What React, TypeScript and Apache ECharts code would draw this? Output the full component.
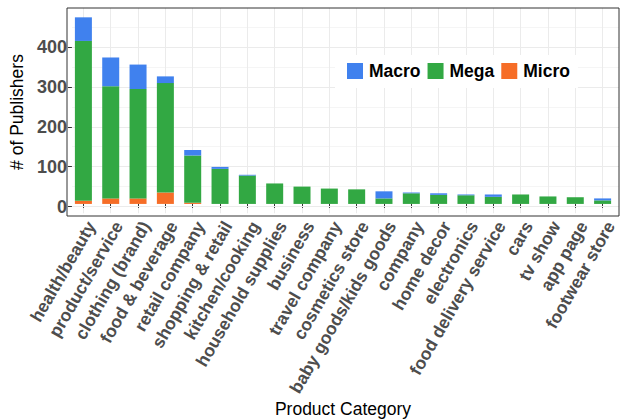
import React, { useEffect, useRef } from 'react';
import * as echarts from 'echarts';

const categories = [
  'health/beauty', 'product/service', 'clothing (brand)', 'food & beverage', 'retail company',
  'shopping & retail', 'kitchen/cooking', 'household supplies', 'business', 'travel company',
  'cosmetics store', 'baby goods/kids goods', 'company', 'home decor', 'electronics',
  'food delivery service', 'cars', 'tv show', 'app page', 'footwear store',
];
const microValues = [8, 14, 14, 29, 3, 0, 0, 0, 0, 0, 0, 0, 0, 0, 0, 0, 0, 0, 0, 0];
const megaValues = [406, 285, 278, 278, 120, 89, 72, 52, 44, 39, 37, 14, 27, 23, 22, 18, 24, 19, 17, 9];
const macroValues = [60, 73, 62, 17, 14, 5, 2, 0, 0, 0, 0, 18, 2, 4, 2, 6, 0, 0, 0, 5];
const yTicks = [0, 100, 200, 300, 400];
const yMinorTicks = [50, 150, 250, 350, 450];
const legendOrder = ['Macro', 'Mega', 'Micro'];

const COLORS = { Macro: '#4081EE', Mega: '#32A843', Micro: '#F66D27' };
const FONT = '"Liberation Sans", Arial, Helvetica, sans-serif';

export default function App() {
  const ref = useRef<HTMLDivElement>(null);
  useEffect(() => {
    const chart = echarts.init(ref.current!, null, { renderer: 'svg' });
    const totals = categories.map((_, i) => microValues[i] + megaValues[i] + macroValues[i]);
    const maxTotal = Math.max(...totals);
    const pad = maxTotal * 0.05;
    const yMin = -pad;
    const yMax = maxTotal + pad;

    const L = 67, R = 619, T = 8, B = 216;
    const n = categories.length;
    const unit = (R - L) / (n - 1 + 1.2);
    const cLeft = L + 0.6 * unit;
    const cWidth = (n - 1) * unit;

    const option: any = {
      animation: false,
      backgroundColor: '#fff',
      grid: [
        { left: L, top: T, width: R - L, height: B - T },
        { left: cLeft, top: T, width: cWidth, height: B - T },
      ],
      legend: {
        data: legendOrder,
        left: 335,
        top: 55,
        padding: [7, 8, 8, 12],
        backgroundColor: '#fff',
        itemWidth: 16,
        itemHeight: 16,
        itemGap: 7,
        icon: 'rect',
        selectedMode: false,
        textStyle: { fontSize: 17.5, fontWeight: 'bold', color: '#000', fontFamily: FONT, padding: [0, 0, 0, 1] },
      },
      xAxis: [
        { type: 'value', gridIndex: 0, min: 0, max: 1, show: false },
        {
          type: 'category',
          gridIndex: 1,
          data: categories,
          boundaryGap: false,
          axisLine: { show: false },
          axisTick: { show: true, length: 4, lineStyle: { color: '#333' } },
          splitLine: { show: true, lineStyle: { color: '#EBEBEB', width: 1 } },
          axisLabel: {
            rotate: 60, interval: 0, margin: 5, fontSize: 17.5, fontWeight: 'bold',
            color: '#4D4D4D', fontFamily: FONT, verticalAlign: 'top', align: 'right',
          },
          name: 'Product Category',
          nameLocation: 'middle',
          nameGap: 186,
          nameTextStyle: { fontSize: 17.5, color: '#000', fontFamily: FONT },
        },
      ],
      yAxis: [
        {
          type: 'value', gridIndex: 0, min: yMin, max: yMax, splitNumber: 5,
          axisLine: { show: false },
          axisTick: { show: true, length: 4, lineStyle: { color: '#333' }, customValues: yTicks },
          axisLabel: {
            margin: 5, fontSize: 18, fontWeight: 'bold', color: '#4D4D4D', fontFamily: FONT,
            customValues: yTicks,
          },
          splitLine: { show: true, lineStyle: { color: '#EBEBEB', width: 1 } },
          name: '# of Publishers',
          nameLocation: 'middle',
          nameRotate: 90,
          nameGap: 34,
          nameTextStyle: { fontSize: 17.5, color: '#000', fontFamily: FONT },
          z: 1,
        },
        {
          type: 'value', gridIndex: 0, min: yMin, max: yMax, splitNumber: 10,
          axisLine: { show: false },
          axisTick: { show: false, customValues: yMinorTicks },
          axisLabel: { show: false, customValues: yMinorTicks },
          splitLine: { show: true, lineStyle: { color: '#F2F2F2', width: 0.8 } },
          z: 0,
        },
        { type: 'value', gridIndex: 1, min: yMin, max: yMax, show: false },
      ],
      series: [
        { name: 'Micro', type: 'bar', data: microValues, color: COLORS.Micro },
        { name: 'Mega', type: 'bar', data: megaValues, color: COLORS.Mega },
        { name: 'Macro', type: 'bar', data: macroValues, color: COLORS.Macro },
      ].map((s) => ({
        ...s,
        xAxisIndex: 1,
        yAxisIndex: 2,
        stack: 'total',
        barWidth: 17,
        clip: false,
        itemStyle: { color: s.color },
      })),
      graphic: [
        {
          type: 'rect',
          shape: { x: L, y: T, width: R - L, height: B - T },
          style: { fill: 'none', stroke: '#333', lineWidth: 1 },
          z: 10,
          silent: true,
        },
      ],
    };
    chart.setOption(option);
    return () => chart.dispose();
  }, []);
  return <div ref={ref} style={{ width: 622, height: 419, position: 'absolute', left: 0, top: 0 }} />;
}
